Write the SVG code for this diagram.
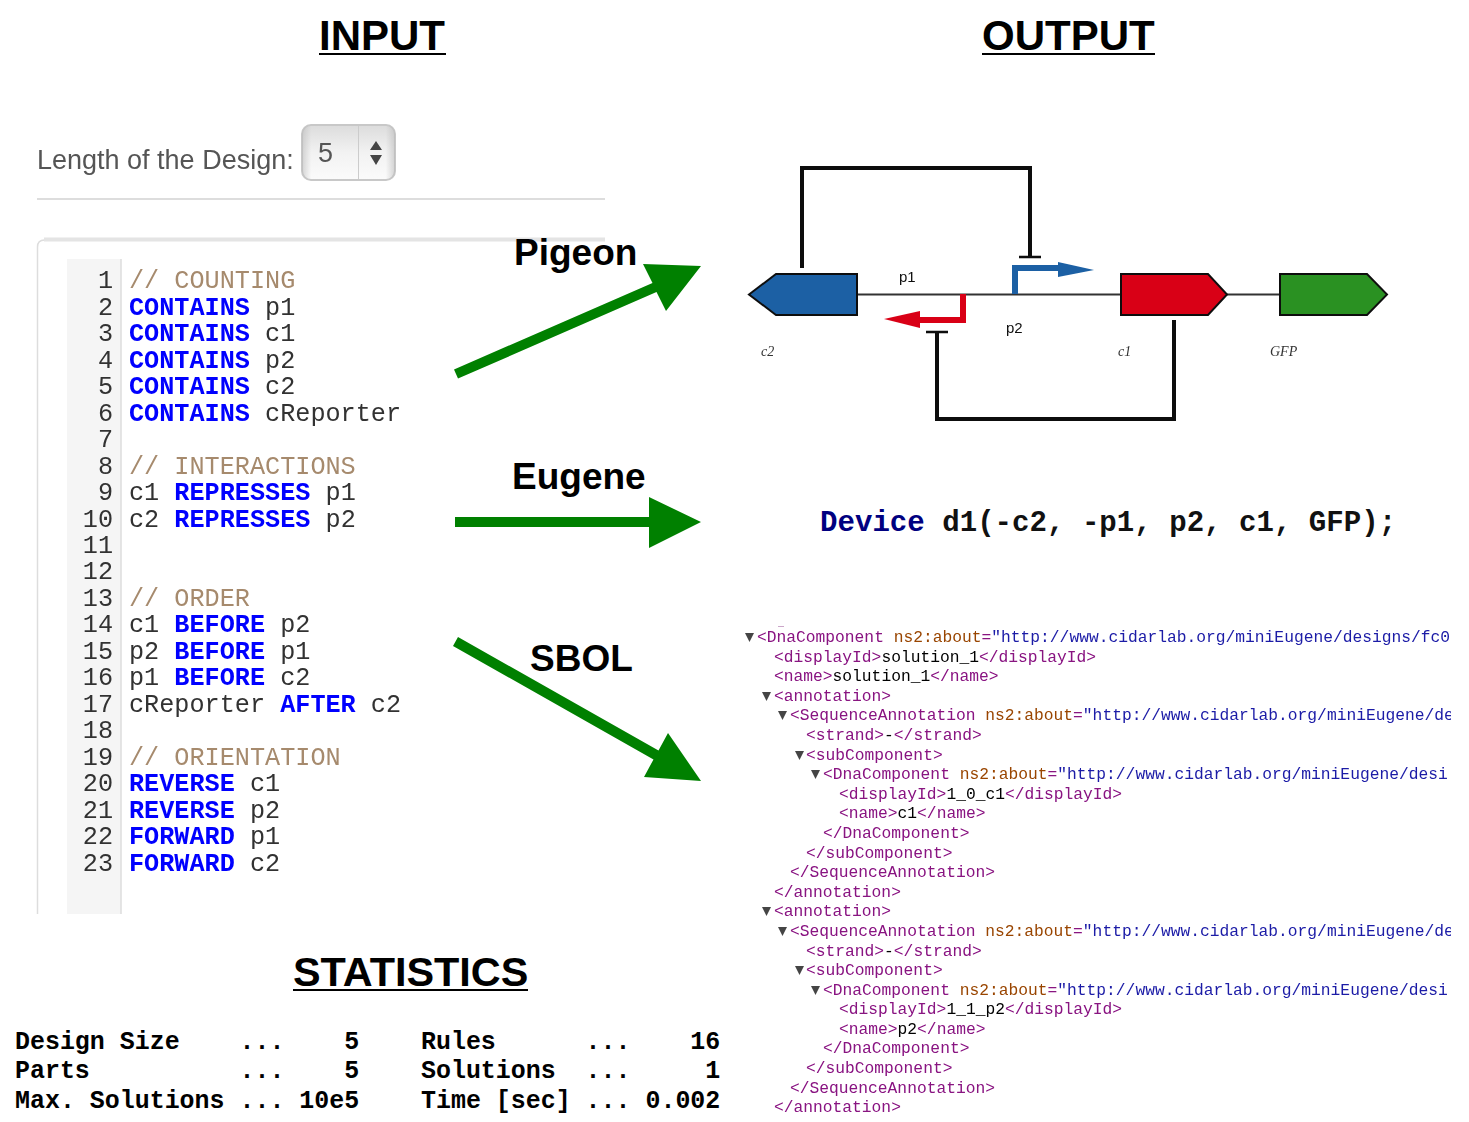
<svg xmlns="http://www.w3.org/2000/svg" width="1469" height="1122" viewBox="0 0 1469 1122">
<style>
text{white-space:pre}
.h{font:bold 42px "Liberation Sans",Arial,sans-serif;fill:#000}
.ul{stroke:#000;stroke-width:2}
.l{font:bold 37px "Liberation Sans",Arial,sans-serif;fill:#000}
.c{font:25.2px "Liberation Mono",monospace;fill:#333}
.k{font-weight:bold;fill:#0000ff}
.m{fill:#a68a6d}
.n{text-anchor:end}
.x{font:16.27px "Liberation Mono",monospace;fill:#000}
.t{fill:#881280}.a{fill:#994500}.v{fill:#1a1aa6}
.s{font:bold 24.95px "Liberation Mono",monospace;fill:#000}
.lb{font:15px "Liberation Sans",Arial,sans-serif;fill:#111}
.it{font:italic 14px "Liberation Serif",serif;fill:#333}
.sf{font:27px "Liberation Sans",Arial,sans-serif;fill:#555}
.part{stroke:#111;stroke-width:2}
.inh{fill:none;stroke:#111;stroke-width:4}
.tri{fill:#444}
</style>
<defs>
<linearGradient id="sel" x1="0" y1="0" x2="0" y2="1"><stop offset="0" stop-color="#dcdcdc"/><stop offset="0.5" stop-color="#f2f2f2"/><stop offset="1" stop-color="#fbfbfb"/></linearGradient>
<linearGradient id="side" x1="0" y1="0" x2="1" y2="0"><stop offset="0" stop-color="#bbb" stop-opacity="0.6"/><stop offset="0.1" stop-color="#bbb" stop-opacity="0"/><stop offset="0.9" stop-color="#bbb" stop-opacity="0"/><stop offset="1" stop-color="#bbb" stop-opacity="0.6"/></linearGradient>
<clipPath id="xc"><rect x="740" y="620" width="711" height="500"/></clipPath>
<filter id="soft" x="-2%" y="-2%" width="104%" height="104%"><feGaussianBlur stdDeviation="0.4"/></filter>
</defs>
<g id="titles">
<text class="h" x="319" y="50">INPUT</text>
<line class="ul" x1="319" y1="54" x2="446" y2="54"/>
<text class="h" x="982" y="50">OUTPUT</text>
<line class="ul" x1="982" y1="54" x2="1155" y2="54"/>
<text class="h" x="293" y="986" style="font-size:41.4px">STATISTICS</text>
<line class="ul" x1="293" y1="990" x2="528" y2="990"/>
</g>
<g id="design-length" filter="url(#soft)">
<text class="sf" x="37" y="169">Length of the Design:</text>
<rect x="302" y="125" width="93" height="55" rx="9" fill="url(#sel)" stroke="#c8c8c8" stroke-width="2"/>
<rect x="302" y="125" width="93" height="55" rx="9" fill="url(#side)"/>
<line x1="358.500" y1="126" x2="358.500" y2="179" stroke="#ccc"/>
<text class="sf" x="318" y="162">5</text>
<polygon class="tri" points="376,141 382,150 370,150"/>
<polygon class="tri" points="370,155 382,155 376,165"/>
<line x1="37" y1="199" x2="605" y2="199" stroke="#ddd" stroke-width="2"/>
</g>
<g id="input-code" filter="url(#soft)">
<path d="M37.500 914V247q0-7 7-7H605" fill="none" stroke="#ddd" stroke-width="1.500"/>
<path d="M44 239.500H605" stroke="#e4e4e4" stroke-width="4"/>
<rect x="67" y="259" width="54" height="655" fill="#f5f5f5"/>
<line x1="121" y1="259" x2="121" y2="914" stroke="#ddd" stroke-width="1.500"/>
<text class="c n" x="113" y="288">1</text><text class="c m" x="129" y="288">// COUNTING</text>
<text class="c n" x="113" y="315">2</text><text class="c" x="129" y="315"><tspan class="k">CONTAINS</tspan> p1</text>
<text class="c n" x="113" y="341">3</text><text class="c" x="129" y="341"><tspan class="k">CONTAINS</tspan> c1</text>
<text class="c n" x="113" y="368">4</text><text class="c" x="129" y="368"><tspan class="k">CONTAINS</tspan> p2</text>
<text class="c n" x="113" y="394">5</text><text class="c" x="129" y="394"><tspan class="k">CONTAINS</tspan> c2</text>
<text class="c n" x="113" y="421">6</text><text class="c" x="129" y="421"><tspan class="k">CONTAINS</tspan> cReporter</text>
<text class="c n" x="113" y="447">7</text>
<text class="c n" x="113" y="474">8</text><text class="c m" x="129" y="474">// INTERACTIONS</text>
<text class="c n" x="113" y="500">9</text><text class="c" x="129" y="500">c1 <tspan class="k">REPRESSES</tspan> p1</text>
<text class="c n" x="113" y="527">10</text><text class="c" x="129" y="527">c2 <tspan class="k">REPRESSES</tspan> p2</text>
<text class="c n" x="113" y="553">11</text>
<text class="c n" x="113" y="579">12</text>
<text class="c n" x="113" y="606">13</text><text class="c m" x="129" y="606">// ORDER</text>
<text class="c n" x="113" y="632">14</text><text class="c" x="129" y="632">c1 <tspan class="k">BEFORE</tspan> p2</text>
<text class="c n" x="113" y="659">15</text><text class="c" x="129" y="659">p2 <tspan class="k">BEFORE</tspan> p1</text>
<text class="c n" x="113" y="685">16</text><text class="c" x="129" y="685">p1 <tspan class="k">BEFORE</tspan> c2</text>
<text class="c n" x="113" y="712">17</text><text class="c" x="129" y="712">cReporter <tspan class="k">AFTER</tspan> c2</text>
<text class="c n" x="113" y="738">18</text>
<text class="c n" x="113" y="765">19</text><text class="c m" x="129" y="765">// ORIENTATION</text>
<text class="c n" x="113" y="791">20</text><text class="c" x="129" y="791"><tspan class="k">REVERSE</tspan> c1</text>
<text class="c n" x="113" y="818">21</text><text class="c" x="129" y="818"><tspan class="k">REVERSE</tspan> p2</text>
<text class="c n" x="113" y="844">22</text><text class="c" x="129" y="844"><tspan class="k">FORWARD</tspan> p1</text>
<text class="c n" x="113" y="871">23</text><text class="c" x="129" y="871"><tspan class="k">FORWARD</tspan> c2</text>
</g>
<g id="connectors" fill="#008000">
<polygon points="454,369.400 652.500,283 643,264 701,266 666,311 656.500,292 458,378.600"/>
<polygon points="455,517 649,517 649,497 701,522 649,548 649,527 455,527"/>
<polygon points="458,637 658.500,750.600 668,733 701,781 644,777 653.500,759.400 453,646"/>
</g>
<g id="connector-labels">
<text class="l" x="514" y="265">Pigeon</text>
<text class="l" x="512" y="489">Eugene</text>
<text class="l" x="530" y="671">SBOL</text>
</g>
<g id="circuit" filter="url(#soft)">
<line x1="857" y1="294.500" x2="1280" y2="294.500" stroke="#333" stroke-width="2"/>
<polygon id="part-c2" class="part" fill="#1c60a4" points="749,294.500 776,274 857,274 857,315 776,315"/>
<polygon id="part-c1" class="part" fill="#d90018" points="1121,274 1208,274 1227,294.500 1208,315 1121,315"/>
<polygon id="part-gfp" class="part" fill="#2b9120" points="1280,274 1367,274 1387,294.500 1367,315 1280,315"/>
<path d="M1015 294V268H1060" fill="none" stroke="#1c60a4" stroke-width="6"/>
<polygon fill="#1c60a4" points="1058,262 1094,270 1058,277"/>
<path d="M963 294V320H918" fill="none" stroke="#d90018" stroke-width="6"/>
<polygon fill="#d90018" points="920,311 884,319 920,328"/>
<path class="inh" d="M802 268V168H1030V257"/>
<line x1="1019" y1="257" x2="1041" y2="257" stroke="#111" stroke-width="2.500"/>
<path class="inh" d="M1174 320V419H937V333"/>
<line x1="926" y1="332" x2="948" y2="332" stroke="#111" stroke-width="2.500"/>
<text class="lb" x="899" y="282">p1</text>
<text class="lb" x="1006" y="333">p2</text>
<text class="it" x="761" y="356">c2</text>
<text class="it" x="1118" y="356">c1</text>
<text class="it" x="1270" y="356">GFP</text>
</g>
<g id="eugene-output">
<text x="820" y="531" style="font:bold 29.100px 'Liberation Mono',monospace;fill:#111"><tspan fill="#000080">Device</tspan> d1(-c2, -p1, p2, c1, GFP);</text>
</g>
<g id="sbol-output" clip-path="url(#xc)">
<g filter="url(#soft)">
<rect x="778" y="626" width="6" height="1" fill="#cba6c9"/>
<polygon class="tri" points="745,633 754,633 749.500,642"/>
<text class="x" x="757" y="642"><tspan class="t">&lt;DnaComponent</tspan> <tspan class="a">ns2:about</tspan><tspan class="t">=</tspan><tspan class="v">"http://www.cidarlab.org/miniEugene/designs/fc0</tspan></text>
<text class="x" x="774" y="662"><tspan class="t">&lt;displayId&gt;</tspan>solution_1<tspan class="t">&lt;/displayId&gt;</tspan></text>
<text class="x" x="774" y="681"><tspan class="t">&lt;name&gt;</tspan>solution_1<tspan class="t">&lt;/name&gt;</tspan></text>
<polygon class="tri" points="762,692 771,692 766.500,701"/>
<text class="x t" x="774" y="701">&lt;annotation&gt;</text>
<polygon class="tri" points="778,711 787,711 782.500,720"/>
<text class="x" x="790" y="720"><tspan class="t">&lt;SequenceAnnotation</tspan> <tspan class="a">ns2:about</tspan><tspan class="t">=</tspan><tspan class="v">"http://www.cidarlab.org/miniEugene/de</tspan></text>
<text class="x" x="806" y="740"><tspan class="t">&lt;strand&gt;</tspan>-<tspan class="t">&lt;/strand&gt;</tspan></text>
<polygon class="tri" points="795,751 804,751 799.500,760"/>
<text class="x t" x="806" y="760">&lt;subComponent&gt;</text>
<polygon class="tri" points="811,770 820,770 815.500,779"/>
<text class="x" x="823" y="779"><tspan class="t">&lt;DnaComponent</tspan> <tspan class="a">ns2:about</tspan><tspan class="t">=</tspan><tspan class="v">"http://www.cidarlab.org/miniEugene/desi</tspan></text>
<text class="x" x="839" y="799"><tspan class="t">&lt;displayId&gt;</tspan>1_0_c1<tspan class="t">&lt;/displayId&gt;</tspan></text>
<text class="x" x="839" y="818"><tspan class="t">&lt;name&gt;</tspan>c1<tspan class="t">&lt;/name&gt;</tspan></text>
<text class="x t" x="823" y="838">&lt;/DnaComponent&gt;</text>
<text class="x t" x="806" y="858">&lt;/subComponent&gt;</text>
<text class="x t" x="790" y="877">&lt;/SequenceAnnotation&gt;</text>
<text class="x t" x="774" y="897">&lt;/annotation&gt;</text>
<polygon class="tri" points="762,907 771,907 766.500,916"/>
<text class="x t" x="774" y="916">&lt;annotation&gt;</text>
<polygon class="tri" points="778,927 787,927 782.500,936"/>
<text class="x" x="790" y="936"><tspan class="t">&lt;SequenceAnnotation</tspan> <tspan class="a">ns2:about</tspan><tspan class="t">=</tspan><tspan class="v">"http://www.cidarlab.org/miniEugene/de</tspan></text>
<text class="x" x="806" y="956"><tspan class="t">&lt;strand&gt;</tspan>-<tspan class="t">&lt;/strand&gt;</tspan></text>
<polygon class="tri" points="795,966 804,966 799.500,975"/>
<text class="x t" x="806" y="975">&lt;subComponent&gt;</text>
<polygon class="tri" points="811,986 820,986 815.500,995"/>
<text class="x" x="823" y="995"><tspan class="t">&lt;DnaComponent</tspan> <tspan class="a">ns2:about</tspan><tspan class="t">=</tspan><tspan class="v">"http://www.cidarlab.org/miniEugene/desi</tspan></text>
<text class="x" x="839" y="1014"><tspan class="t">&lt;displayId&gt;</tspan>1_1_p2<tspan class="t">&lt;/displayId&gt;</tspan></text>
<text class="x" x="839" y="1034"><tspan class="t">&lt;name&gt;</tspan>p2<tspan class="t">&lt;/name&gt;</tspan></text>
<text class="x t" x="823" y="1053">&lt;/DnaComponent&gt;</text>
<text class="x t" x="806" y="1073">&lt;/subComponent&gt;</text>
<text class="x t" x="790" y="1093">&lt;/SequenceAnnotation&gt;</text>
<text class="x t" x="774" y="1112">&lt;/annotation&gt;</text>
</g>
</g>
<g id="statistics">
<text class="s" x="15" y="1049">Design Size    ...    5</text>
<text class="s" x="15" y="1078">Parts          ...    5</text>
<text class="s" x="15" y="1108">Max. Solutions ... 10e5</text>
<text class="s" x="421" y="1049">Rules      ...    16</text>
<text class="s" x="421" y="1078">Solutions  ...     1</text>
<text class="s" x="421" y="1108">Time [sec] ... 0.002</text>
</g>
</svg>
